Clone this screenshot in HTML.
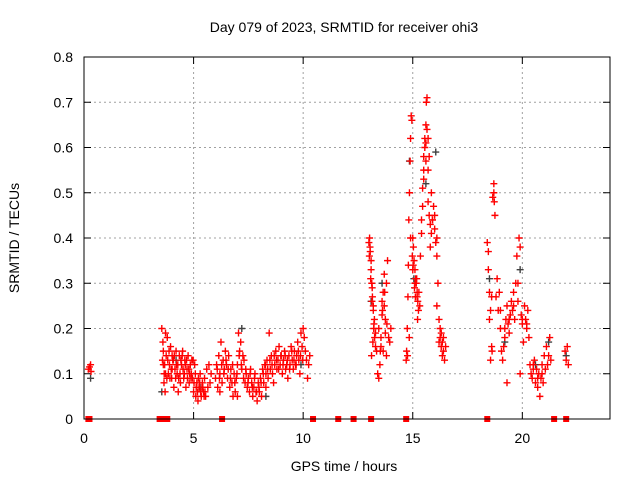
<!DOCTYPE html>
<html><head><meta charset="utf-8"><style>
body{margin:0;background:#fff}
svg{display:block;font-family:"Liberation Sans",sans-serif}
</style></head><body>
<svg id="chart" width="640" height="480" viewBox="0 0 640 480">
<rect width="640" height="480" fill="#fff"/>
<text x="344" y="32" font-size="14" text-anchor="middle">Day 079 of 2023, SRMTID for receiver ohi3</text>
<g id="grid"></g>
<g id="axes"></g>
<g id="black"></g>
<g id="red"></g>
<rect x="84" y="57" width="526" height="362" fill="none" stroke="#000" stroke-width="1"/>
<text x="344" y="471" font-size="14" text-anchor="middle">GPS time / hours</text>
<text transform="translate(19,238) rotate(-90)" font-size="14" text-anchor="middle">SRMTID / TECUs</text>
</svg>
<script>
const xTicks=[0,5,10,15,20];
const yTicks=[0,0.1,0.2,0.3,0.4,0.5,0.6,0.7,0.8];
const yTickLabels=["0","0.1","0.2","0.3","0.4","0.5","0.6","0.7","0.8"];
const redT=[0.2,0.25,0.3,0.32,
3.55,3.6,3.62,3.65,3.7,3.72,3.75,3.8,3.85,3.9,
3.95,4.0,4.05,4.1,4.15,4.2,4.25,4.3,4.35,4.4,
4.45,4.5,4.55,4.6,4.65,4.7,4.75,4.8,4.85,4.9,
4.95,5.0,5.05,5.1,5.15,5.2,5.25,5.3,5.35,5.4,
5.45,5.5,5.55,5.6,5.65,5.7,5.75,5.8,3.68,4.02,
3.58,3.66,3.78,3.88,3.98,4.08,4.18,4.28,4.38,4.48,
4.58,4.68,4.78,4.88,4.98,5.08,5.18,5.28,5.38,5.48,
6.0,6.05,6.1,6.15,6.2,6.25,6.3,6.35,6.4,6.45,
6.5,6.55,6.6,6.65,6.7,6.75,6.8,6.85,6.9,6.95,
7.0,7.05,7.1,7.15,7.2,7.25,7.3,7.35,7.4,7.45,
7.5,7.55,7.6,7.65,7.7,7.75,7.8,7.85,7.9,7.95,
8.0,8.05,8.1,8.15,8.2,8.25,8.3,8.35,8.4,8.45,
8.5,8.55,8.6,8.65,8.7,8.75,8.8,8.85,8.9,8.95,
9.0,9.05,9.1,9.15,9.2,9.25,9.3,9.35,9.4,9.45,
9.5,9.55,9.6,9.65,9.7,9.75,9.8,9.85,9.9,9.95,
10.0,10.05,10.1,10.15,10.2,10.25,10.3,6.2,7.0,8.3,
13.0,13.03,13.06,13.1,13.13,13.16,13.2,13.23,13.26,13.3,
13.05,13.1,13.15,13.2,13.25,13.3,13.35,13.12,13.18,13.08,
13.4,13.45,13.5,13.55,13.6,13.65,13.7,13.75,13.8,13.85,
13.45,13.55,13.6,13.65,13.7,13.75,13.8,13.9,13.95,14.0,
14.7,14.72,14.75,14.78,14.8,14.82,14.85,14.88,14.9,14.93,
14.96,15.0,15.03,15.06,15.1,15.13,15.16,15.2,15.23,15.26,
14.98,15.02,15.08,15.12,15.18,15.22,15.28,15.32,14.76,14.84,
15.35,15.4,15.45,15.5,15.55,15.6,15.62,15.65,15.7,15.75,
15.4,15.45,15.5,15.55,15.6,15.65,15.7,15.75,15.8,15.85,
15.8,15.85,15.9,15.95,16.0,16.05,16.1,16.15,16.2,16.25,
16.2,16.25,16.3,16.35,16.4,16.45,16.5,16.3,16.4,16.1,
18.4,18.45,18.5,18.55,18.6,18.62,18.65,18.7,18.72,18.75,
18.45,18.5,18.55,18.8,18.85,18.9,18.95,19.0,19.05,19.1,
19.15,19.2,19.25,19.3,19.35,19.4,19.45,19.5,19.55,19.6,
19.65,19.7,19.75,19.8,19.85,19.9,19.95,20.0,20.05,20.1,
20.15,20.2,20.25,20.3,20.35,20.4,20.45,20.5,20.55,20.6,
20.65,20.7,20.75,20.8,20.85,20.9,20.95,21.0,21.05,21.1,
21.15,21.2,21.25,21.3,21.95,22.0,22.05,22.1,19.3,19.9];
const redV=[0.11,0.115,0.12,0.105,
0.20,0.17,0.15,0.08,0.06,0.19,0.14,0.18,0.10,0.12,
0.16,0.09,0.13,0.07,0.11,0.15,0.10,0.06,0.14,0.08,
0.12,0.15,0.09,0.13,0.07,0.11,0.14,0.08,0.12,0.10,
0.09,0.06,0.12,0.05,0.08,0.04,0.07,0.10,0.05,0.08,
0.06,0.09,0.05,0.11,0.07,0.12,0.08,0.10,0.12,0.14,
0.13,0.10,0.09,0.15,0.11,0.13,0.09,0.12,0.10,0.14,
0.10,0.13,0.11,0.09,0.13,0.10,0.06,0.08,0.07,0.05,
0.09,0.12,0.07,0.14,0.10,0.17,0.08,0.13,0.11,0.15,
0.12,0.09,0.14,0.07,0.11,0.08,0.05,0.10,0.06,0.09,
0.12,0.19,0.15,0.17,0.11,0.14,0.13,0.08,0.10,0.07,
0.09,0.06,0.11,0.08,0.05,0.07,0.10,0.06,0.04,0.08,
0.06,0.09,0.05,0.11,0.08,0.12,0.10,0.13,0.09,0.19,
0.11,0.14,0.10,0.08,0.12,0.15,0.11,0.13,0.16,0.12,
0.14,0.10,0.13,0.15,0.11,0.12,0.09,0.14,0.12,0.16,
0.13,0.11,0.15,0.12,0.14,0.17,0.13,0.10,0.19,0.16,
0.20,0.18,0.15,0.13,0.09,0.12,0.14,0.06,0.05,0.07,
0.39,0.40,0.37,0.33,0.30,0.27,0.24,0.21,0.18,0.16,
0.38,0.35,0.29,0.25,0.22,0.19,0.15,0.14,0.17,0.31,
0.10,0.09,0.12,0.18,0.26,0.28,0.25,0.22,0.30,0.35,
0.20,0.16,0.23,0.15,0.32,0.19,0.14,0.18,0.17,0.20,
0.13,0.15,0.20,0.27,0.34,0.44,0.50,0.57,0.62,0.67,
0.66,0.40,0.38,0.35,0.33,0.31,0.30,0.28,0.26,0.24,
0.36,0.34,0.29,0.27,0.31,0.22,0.28,0.25,0.14,0.18,
0.36,0.44,0.51,0.55,0.60,0.65,0.70,0.71,0.62,0.58,
0.41,0.47,0.53,0.62,0.57,0.64,0.48,0.45,0.43,0.50,
0.38,0.41,0.44,0.47,0.42,0.39,0.36,0.30,0.22,0.20,
0.17,0.18,0.16,0.14,0.15,0.13,0.16,0.19,0.18,0.25,
0.39,0.33,0.28,0.24,0.16,0.15,0.49,0.52,0.48,0.45,
0.37,0.22,0.13,0.27,0.31,0.24,0.28,0.20,0.15,0.13,
0.16,0.18,0.22,0.25,0.21,0.19,0.23,0.26,0.24,0.28,
0.22,0.30,0.36,0.26,0.40,0.38,0.23,0.21,0.17,0.25,
0.22,0.20,0.24,0.18,0.12,0.10,0.09,0.11,0.13,0.08,
0.11,0.07,0.10,0.05,0.09,0.12,0.08,0.14,0.11,0.16,
0.12,0.14,0.18,0.13,0.15,0.13,0.16,0.12,0.08,0.10];
const extraT=[3.62,3.72,3.82,3.92,4.02,4.12,4.22,4.32,4.42,4.52,
4.62,4.72,4.82,4.92,5.02,5.12,5.22,5.32,5.42,5.52,
6.08,6.18,6.28,6.38,6.48,6.58,6.68,6.78,6.88,6.98,
7.08,7.18,7.28,7.38,7.48,7.58,7.68,7.78,7.88,7.98,
8.08,8.18,8.28,8.38,8.48,8.58,8.68,8.78,8.88,8.98,
9.08,9.18,9.28,9.38,9.48,9.58,9.68,9.78,9.88,9.98,
13.02,13.14,13.22,13.52,13.62,13.72,13.82,14.9,15.0,15.1,
15.2,15.5,15.6,15.7,15.9,16.0,16.1,16.35,18.6,18.7,
19.0,19.2,19.4,19.6,19.8,20.0,20.2,20.5,20.7,20.9];
const extraV=[0.12,0.10,0.13,0.09,0.11,0.14,0.12,0.09,0.13,0.11,
0.12,0.09,0.10,0.13,0.08,0.07,0.09,0.06,0.07,0.06,
0.11,0.09,0.12,0.10,0.13,0.11,0.09,0.12,0.08,0.10,
0.14,0.12,0.09,0.11,0.08,0.10,0.07,0.09,0.06,0.07,
0.08,0.10,0.12,0.11,0.13,0.12,0.14,0.13,0.11,0.14,
0.12,0.14,0.13,0.11,0.15,0.13,0.12,0.15,0.14,0.13,
0.36,0.26,0.20,0.15,0.24,0.28,0.21,0.40,0.33,0.30,
0.27,0.58,0.61,0.55,0.44,0.45,0.40,0.17,0.27,0.50,
0.24,0.20,0.22,0.25,0.30,0.22,0.21,0.12,0.09,0.10];
const zeroT=[0.2,0.25,3.45,3.5,3.6,3.7,3.8,6.3,10.45,11.6,12.3,13.1,14.7,18.4,21.45,22.0];
const blackT=[0.3,3.55,4.2,5.3,7.2,8.3,9.9,13.1,13.6,14.85,15.05,15.6,16.05,18.5,19.2,19.9,20.6,21.2,22.0];
const blackV=[0.09,0.06,0.13,0.07,0.20,0.05,0.12,0.26,0.30,0.57,0.31,0.52,0.59,0.31,0.17,0.33,0.12,0.17,0.14];

const NS="http://www.w3.org/2000/svg";
const X0=84,X1=610,Y0=419,Y1=57,XMAX=24,YMAX=0.8;
const xs=t=>X0+(X1-X0)*t/XMAX;
const ys=v=>Y0-(Y0-Y1)*v/YMAX;
const grid=document.getElementById('grid'),axes=document.getElementById('axes');
function mk(tag,attrs,parent){const e=document.createElementNS(NS,tag);for(const k in attrs)e.setAttribute(k,attrs[k]);parent.appendChild(e);return e;}
yTicks.forEach((v,i)=>{
  const y=ys(v);
  if(v>0&&v<YMAX){const g=mk('line',{x1:X0,x2:X1,y1:y,y2:y,stroke:'#a0a0a0','stroke-dasharray':'2,3'},grid);
  
  }
  const t1=mk('line',{x1:X0,x2:X0+7,y1:y,y2:y,stroke:'#000'},axes);
  
  
  const t2=mk('line',{x1:X1,x2:X1-7,y1:y,y2:y,stroke:'#000'},axes);
  
  
  const l=mk('text',{x:X0-11,y:y+5,'font-size':14,'text-anchor':'end'},axes);
  l.textContent=yTickLabels[i];
  
  
});
xTicks.forEach(t=>{
  const x=xs(t);
  if(t>0){const g=mk('line',{x1:x,x2:x,y1:Y0,y2:Y1,stroke:'#a0a0a0','stroke-dasharray':'2,3'},grid);
  
  }
  const t1=mk('line',{x1:x,x2:x,y1:Y0,y2:Y0-7,stroke:'#000'},axes);
  
  
  const t2=mk('line',{x1:x,x2:x,y1:Y1,y2:Y1+7,stroke:'#000'},axes);
  
  
  const l=mk('text',{x:x,y:Y0+24,'font-size':14,'text-anchor':'middle'},axes);
  l.textContent=String(t);
  
  
});
function plot(T,V,color,parent,name){
  let d='';
  for(let i=0;i<T.length;i++){const x=xs(T[i]),y=ys(V[i]);d+=`M${x-3.5},${y}h7M${x},${y-3.5}v7`;}
  const p=mk('path',{d:d,stroke:color,'stroke-width':1.4,fill:'none'},parent);
  
  
}
plot(blackT,blackV,'#404040',document.getElementById('black'),'black-points');
plot(redT,redV,'#ff0000',document.getElementById('red'),'red-points');
plot(extraT,extraV,'#ff0000',document.getElementById('red'),'red-points-extra');
zeroT.forEach(t=>{
  const r=mk('rect',{x:xs(t)-3,y:Y0-3,width:6,height:6,fill:'#ff0000'},document.getElementById('red'));
  
  
});
</script>
</body></html>
